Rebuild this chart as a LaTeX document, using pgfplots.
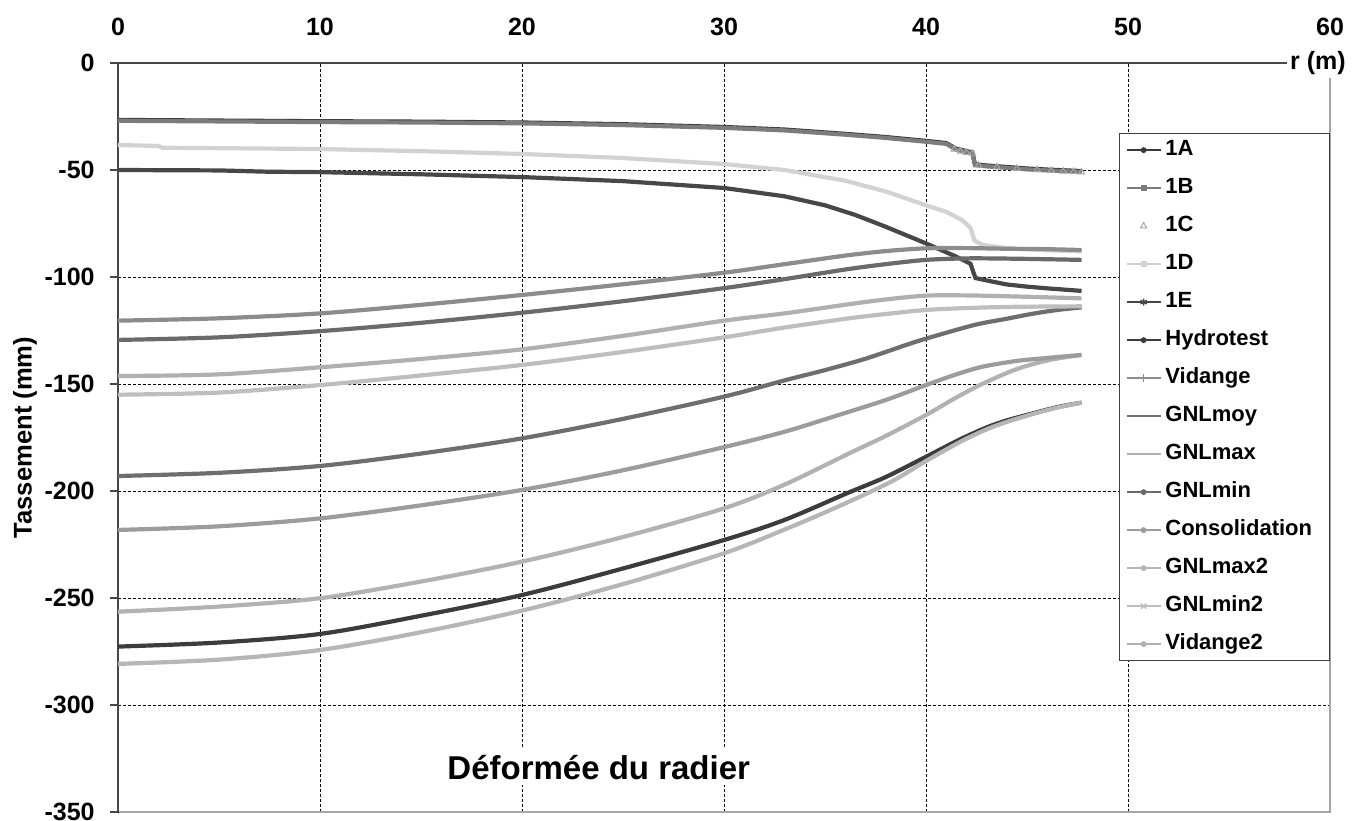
\documentclass[border=0pt]{standalone}
\usepackage{fontspec}
\setmainfont{Liberation Sans}
\usepackage{pgfplots}
\pgfplotsset{compat=1.18}
\definecolor{cdark}{HTML}{3A3A3A}
\definecolor{cmid}{HTML}{7C7C7C}
\definecolor{ctri}{HTML}{A8A8A8}
\definecolor{cvlight}{HTML}{D2D2D2}
\definecolor{c1E}{HTML}{474747}
\definecolor{chydro}{HTML}{3C3C3C}
\definecolor{cvid}{HTML}{8C8C8C}
\definecolor{cmoy}{HTML}{6E6E6E}
\definecolor{cmax}{HTML}{B2B2B2}
\definecolor{cmin}{HTML}{6A6A6A}
\definecolor{ccons}{HTML}{9C9C9C}
\definecolor{cmax2}{HTML}{B6B6B6}
\definecolor{cmin2}{HTML}{BEBEBE}
\definecolor{cvid2}{HTML}{B0B0B0}
\pgfplotsset{
  ser/.style={line width=2.1pt, #1, legend image post style={line width=0.7pt, mark size=1.1pt}},
}
\begin{document}
\begin{tikzpicture}
\begin{axis}[
  at={(0,0)}, anchor=south west,
  scale only axis, width=606pt, height=374.5pt,
  xmin=0, xmax=60, ymin=-350, ymax=0,
  clip=false,
  axis x line*=top, axis y line*=left,
  axis line style={black!72, line width=0.8pt},
  xtick={0,10,...,60},
  ytick={-350,-300,-250,-200,-150,-100,-50,0},
  yticklabels={-350,-300,-250,-200,-150,-100,-50,0},
  xticklabels={0,10,20,30,40,50,60},
  tick align=outside, major tick length=4pt,
  xtick style={draw=none},
  ytick style={black!72, line width=0.8pt},
  ticklabel style={font=\bfseries\fontsize{12.5}{14}\selectfont, inner sep=0pt},
  yticklabel style={anchor=east, xshift=-7.5pt},
  xticklabel style={anchor=base, yshift=10pt},
  grid=major,
  major grid style={black, line width=0.5pt, dash pattern=on 1.5pt off 1pt},
  ylabel={Tassement (mm)},
  every axis y label/.style={at={(axis description cs:-0.0767,0.5)}, rotate=90, anchor=center, font=\bfseries\fontsize{12.8}{14}\selectfont},
  legend style={at={(rel axis cs:1,0.9065)}, anchor=north east, draw=black!75, line width=0.6pt, fill=white,
    font=\bfseries\fontsize{11}{13}\selectfont, inner xsep=3pt, inner ysep=3pt, row sep=8.5pt,
    nodes={inner xsep=2pt, inner ysep=0pt, text height=8pt, text depth=2.5pt, text width=77pt}},
  legend cell align=left,
]
\addplot[ser={cdark}, legend image post style={mark=*}] coordinates {
(0,-26.6) (5,-26.9) (10,-27.2) (15,-27.4) (20,-27.8) (25,-28.6) (30,-29.9) (33,-31.1) (36,-33.1) (38,-34.6) (40,-36.4) (41,-37.4) (41.5,-40.1) (42.3,-41.8) (42.42,-47.3) (43,-47.9) (44,-48.6) (45,-49.3) (46,-49.8) (47,-50.2) (47.7,-50.5)};
\addlegendentry{1A}
\addplot[ser={cmid}, legend image post style={mark=square*}] coordinates {
(0,-27) (5,-27.3) (10,-27.6) (15,-27.8) (20,-28.2) (25,-29) (30,-30.3) (33,-31.5) (36,-33.5) (38,-35) (40,-36.8) (41,-37.8) (41.5,-40.5) (42.3,-42.2) (42.42,-47.7) (43,-48.3) (44,-49) (45,-49.7) (46,-50.2) (47,-50.6) (47.7,-50.9)};
\addlegendentry{1B}
\addplot[only marks, mark=triangle, mark size=1.8pt, color=ctri, line width=0.5pt] coordinates {
(41.4,-40.3) (41.7,-41.3) (42.0,-41.8) (42.3,-42.2) (42.6,-47.8) (43.5,-48.6) (44.5,-49.3) (45.5,-49.9) (46.2,-50.3) (46.8,-50.6) (47.3,-50.8) (47.7,-51)};
\addlegendentry{1C}
\addplot[ser={cvlight}, legend image post style={mark=square*}] coordinates {
(0,-38.3) (2,-38.8) (2.2,-39.6) (5,-39.8) (10,-40.2) (15,-41.2) (20,-42.5) (25,-44.4) (30,-47.2) (33,-50) (36,-55) (38,-60) (40,-66.5) (41,-69.5) (41.8,-73.5) (42.2,-77) (42.4,-83) (42.8,-85) (44,-86.5) (46,-87.5) (47.7,-88)};
\addlegendentry{1D}
\addplot[ser={c1E}, legend image post style={mark=asterisk, mark size=1.8pt}] coordinates {
(0,-50) (5,-50.2) (7.4,-50.8) (10,-51) (15,-52) (20,-53.3) (25,-55.2) (30,-58.4) (33,-62.3) (35,-66.5) (36.5,-71) (38,-76.5) (40,-84.3) (41.5,-90.5) (42.2,-93.8) (42.45,-100.5) (43,-101.6) (44,-103.5) (45,-104.5) (46,-105.3) (47,-106) (47.7,-106.5)};
\addlegendentry{1E}
\addplot[ser={chydro}, smooth, legend image post style={mark=*}] coordinates {
(0,-272.7) (5,-270.8) (10,-266.8) (15,-258.3) (20,-248.6) (25,-236.2) (30,-222.9) (33,-213.5) (36.1,-201) (38,-193.5) (40,-184) (41.7,-175.8) (43,-170.3) (44,-167) (45.3,-163.7) (46.5,-160.8) (47.7,-158.7)};
\addlegendentry{Hydrotest}
\addplot[ser={cvid}, smooth, legend image post style={mark=+, mark size=2pt}] coordinates {
(0,-120.4) (5,-119.3) (10,-117) (15,-113) (20,-108.4) (25,-103.4) (30,-98) (33,-94) (36,-90) (38,-87.9) (40,-86.6) (42,-86.5) (44,-86.8) (46,-87) (47.7,-87.4)};
\addlegendentry{Vidange}
\addplot[ser={cmoy}, smooth, legend image post style={mark=-, mark size=2pt}] coordinates {
(0,-193) (5,-191.5) (10,-188.3) (15,-182.5) (20,-175.4) (25,-166.3) (30,-155.9) (33,-148.3) (35,-143.5) (37,-138.2) (39,-131.8) (40,-128.8) (42.4,-122.4) (44,-119.5) (45.2,-117.3) (46.5,-115.4) (47.7,-114.2)};
\addlegendentry{GNLmoy}
\addplot[ser={cmax}, smooth, legend image post style={mark=-, mark size=2pt}] coordinates {
(0,-256.4) (5,-254) (10,-250.1) (15,-242.3) (20,-233) (25,-221.5) (30,-208.1) (33,-197) (36.2,-182.4) (38,-174.3) (40,-164.5) (41.5,-156.3) (42.8,-149.9) (44.5,-143) (46.1,-138.8) (47.7,-136.4)};
\addlegendentry{GNLmax}
\addplot[ser={cmin}, smooth, legend image post style={mark=*}] coordinates {
(0,-129.4) (5,-128.2) (10,-125.3) (15,-121.4) (20,-116.7) (25,-111.3) (30,-105.2) (33,-101) (36,-96.5) (38,-94) (40,-92) (42,-91.3) (44,-91.4) (46,-91.7) (47.7,-92)};
\addlegendentry{GNLmin}
\addplot[ser={ccons}, smooth, legend image post style={mark=*}] coordinates {
(0,-218.2) (5,-216.5) (10,-212.8) (15,-206.7) (20,-199.5) (25,-190.3) (30,-179.5) (33,-172.3) (35.4,-165.3) (38,-157.5) (40,-150.5) (41.5,-145.5) (42.8,-141.9) (44.5,-139.2) (45.8,-138) (47.7,-136.4)};
\addlegendentry{Consolidation}
\addplot[ser={cmax2}, smooth, legend image post style={mark=*}] coordinates {
(0,-280.8) (5,-278.8) (10,-274.3) (15,-266) (20,-255.9) (25,-243.5) (30,-229.1) (33,-218) (35,-210) (37,-201.5) (38.5,-194.5) (40,-186) (41.7,-177) (43,-171.2) (44,-167.7) (45.3,-164) (46.5,-161) (47.7,-158.7)};
\addlegendentry{GNLmax2}
\addplot[ser={cmin2}, smooth, legend image post style={mark=x, mark size=1.8pt}] coordinates {
(0,-155) (5,-154) (10,-150.5) (15,-146) (20,-141.1) (25,-135) (30,-128.2) (33,-123.6) (36.2,-119.3) (38,-117.3) (40,-115.4) (42,-114.5) (44,-114) (46,-113.8) (47.7,-113.7)};
\addlegendentry{GNLmin2}
\addplot[ser={cvid2}, smooth, legend image post style={mark=*}] coordinates {
(0,-146.3) (5,-145.5) (10,-142.2) (15,-138.3) (20,-133.8) (25,-127.5) (30,-120.4) (33,-117) (36.2,-112.7) (38,-110.5) (40,-108.7) (42,-108.6) (44,-109) (46,-109.5) (47.7,-110)};
\addlegendentry{Vidange2}
% light plot-area border on the right and bottom
\draw[white, line width=1.4pt] (rel axis cs:1,0.985) -- (rel axis cs:1,0) -- (rel axis cs:0.001,0);
\draw[black!35, line width=0.6pt] (rel axis cs:1,0.985) -- (rel axis cs:1,0) -- (rel axis cs:0.001,0);
\node[fill=white, inner sep=1.5pt, font=\bfseries\fontsize{12.5}{14}\selectfont] at ([xshift=-6pt]rel axis cs:1,1) {r (m)};
\node[fill=white, inner sep=3pt, anchor=base, font=\bfseries\fontsize{16.5}{18}\selectfont] at (axis cs:23.8,-334.6) {Déformée du radier};
\end{axis}
\pgfresetboundingbox
\path (-59pt,-4pt) rectangle (620.5pt,406pt);
\end{tikzpicture}
\end{document}
